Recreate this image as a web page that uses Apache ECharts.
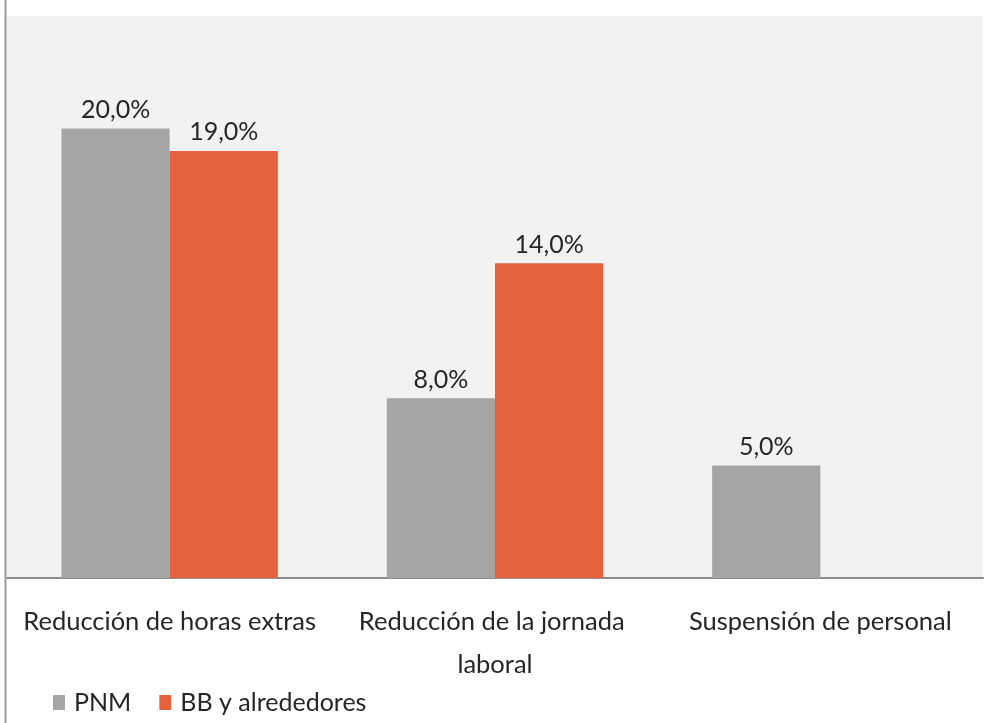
<!DOCTYPE html>
<html>
<head>
<meta charset="utf-8">
<script src="https://cdn.jsdelivr.net/npm/echarts@6/dist/echarts.min.js"></script>
<style>
html,body{margin:0;padding:0;background:#fff;}
#chart{width:1003px;height:723px;}
</style>
</head>
<body>
<div id="chart"></div>
<script>
const categories = ['Reducción de horas extras', 'Reducción de la jornada laboral', 'Suspensión de personal'];
const seriesNames = ['PNM', 'BB y alrededores'];
const pnmValues = [20.0, 8.0, 5.0];
const bbValues = [19.0, 14.0, null];

const FONT = 'Lato, "Open Sans", sans-serif';
const fmt = p => p.value == null ? '' : p.value.toFixed(1).replace('.', ',') + '%';

const chart = echarts.init(document.getElementById('chart'), null, {renderer: 'canvas'});
chart.setOption({
  animation: false,
  backgroundColor: '#ffffff',
  textStyle: {fontFamily: FONT},
  grid: {
    left: 7, right: 20, top: 16, bottom: 145,
    show: true, backgroundColor: '#F2F2F2', borderWidth: 0
  },
  legend: {
    data: seriesNames,
    left: 53, top: 690,
    icon: 'rect', itemWidth: 12, itemHeight: 15, itemGap: 28, padding: 0,
    textStyle: {fontFamily: FONT, fontSize: 25, color: '#262626', padding: [0, 0, 0, 4]}
  },
  xAxis: {
    type: 'category',
    data: categories,
    axisLine: {lineStyle: {color: '#8C8C8C', width: 2}},
    axisTick: {show: false},
    axisLabel: {
      interval: 0, margin: 22, fontFamily: FONT, fontSize: 25.5, lineHeight: 43,
      color: '#262626', width: 318, overflow: 'break'
    }
  },
  yAxis: {
    type: 'value', min: 0, max: 25, show: false,
    splitLine: {show: false}
  },
  series: [
    {
      name: seriesNames[0], type: 'bar', data: pnmValues,
      barGap: '0%', barCategoryGap: '33.5%',
      itemStyle: {color: '#A5A5A5'},
      label: {show: true, position: 'top', distance: 6, formatter: fmt,
        fontFamily: FONT, fontSize: 25, color: '#262626'}
    },
    {
      name: seriesNames[1], type: 'bar', data: bbValues,
      barGap: '0%', barCategoryGap: '33.5%',
      itemStyle: {color: '#E6623E'},
      label: {show: true, position: 'top', distance: 6, formatter: fmt,
        fontFamily: FONT, fontSize: 25, color: '#262626'}
    }
  ],
  graphic: [{
    type: 'line', shape: {x1: 5.5, y1: 0, x2: 5.5, y2: 723},
    style: {stroke: '#9A9A9A', lineWidth: 2}
  }]
});
</script>
</body>
</html>
